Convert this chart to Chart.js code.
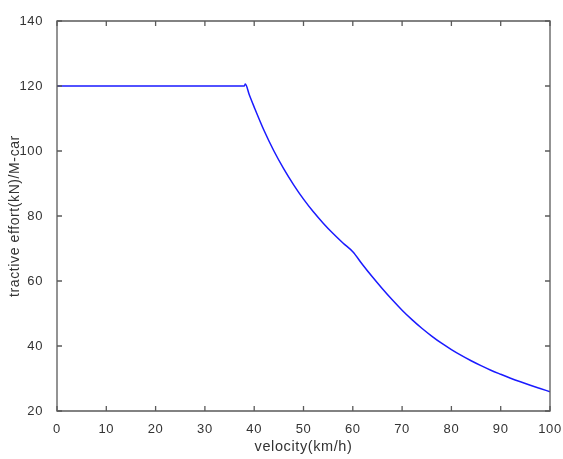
<!DOCTYPE html>
<html><head><meta charset="utf-8">
<script src="https://cdn.jsdelivr.net/npm/chart.js@4.4.1/dist/chart.umd.min.js"></script>
<style>html,body{margin:0;padding:0;background:#fff}#wrap{width:563px;height:459px;position:relative}</style>
</head><body>
<div id="wrap"><canvas id="c"></canvas></div>
<script>
const velocity = [0, 38, 38.2, 39, 40, 42, 44, 46, 48, 50, 52, 54, 56, 58, 60, 62, 64, 66, 68, 70, 72, 74, 76, 78, 80, 82, 84, 86, 88, 90, 92, 94, 96, 98, 100];
const effort = [120, 120, 120.6, 117.3, 113.5, 106.3, 100.0, 94.5, 89.6, 85.2, 81.3, 77.8, 74.6, 71.7, 69.0, 65.0, 61.2, 57.6, 54.2, 51.0, 48.1, 45.45, 43.05, 40.85, 38.9, 37.1, 35.45, 33.95, 32.55, 31.3, 30.1, 28.98, 27.92, 26.92, 25.94];
const xTicks = [0, 10, 20, 30, 40, 50, 60, 70, 80, 90, 100];
const yTicks = [20, 40, 60, 80, 100, 120, 140];
const xTitle = 'velocity(km/h)';
const yTitle = 'tractive effort(kN)/M-car';

const FONT = "'Liberation Sans', Arial, Helvetica, sans-serif";

const boxPlugin = {
  id: 'box',
  beforeDraw(chart) {
    try { chart.ctx.letterSpacing = '0.6px'; } catch (e) {}
  },
  afterDatasetsDraw(chart) {
    const {ctx, chartArea: a, scales: {x, y}} = chart;
    ctx.save();
    ctx.strokeStyle = '#5a5a5a';
    ctx.lineWidth = 1.3;
    ctx.beginPath();
    ctx.rect(a.left, a.top, a.right - a.left, a.bottom - a.top);
    ctx.stroke();
    const L = 5;
    ctx.beginPath();
    xTicks.forEach(v => {
      const px = x.getPixelForValue(v);
      ctx.moveTo(px, a.bottom); ctx.lineTo(px, a.bottom - L);
      ctx.moveTo(px, a.top); ctx.lineTo(px, a.top + L);
    });
    yTicks.forEach(v => {
      const py = y.getPixelForValue(v);
      ctx.moveTo(a.left, py); ctx.lineTo(a.left + L, py);
      ctx.moveTo(a.right, py); ctx.lineTo(a.right - L, py);
    });
    ctx.stroke();
    ctx.restore();
  }
};

new Chart(document.getElementById('c'), {
  type: 'line',
  data: {
    datasets: [{
      data: velocity.map((v, i) => ({x: v, y: effort[i]})),
      borderColor: '#1a1aff',
      borderWidth: 1.5,
      pointRadius: 0,
      cubicInterpolationMode: 'monotone',
      fill: false
    }]
  },
  options: {
    responsive: true,
    maintainAspectRatio: false,
    animation: false,
    layout: {padding: {top: 21, right: 13, left: 0, bottom: 0}},
    plugins: {legend: {display: false}, tooltip: {enabled: false}},
    scales: {
      x: {
        type: 'linear', min: 0, max: 100,
        afterBuildTicks: s => { s.ticks = xTicks.map(v => ({value: v})); },
        afterFit: s => { s.height = 48; s.paddingLeft = 0; s.paddingRight = 0; },
        grid: {display: false}, border: {display: false},
        ticks: {padding: 3, color: '#333', font: {family: FONT, size: 13}, maxRotation: 0},
        title: {display: true, text: xTitle, color: '#333', font: {family: FONT, size: 14.5}, padding: {top: 0, bottom: 3}}
      },
      y: {
        type: 'linear', min: 20, max: 140,
        afterBuildTicks: s => { s.ticks = yTicks.map(v => ({value: v})); },
        afterFit: s => { s.width = 57; s.paddingTop = 0; s.paddingBottom = 0; },
        grid: {display: false}, border: {display: false},
        ticks: {padding: 6, color: '#333', font: {family: FONT, size: 13}},
        title: {display: true, text: yTitle, color: '#333', font: {family: FONT, size: 14}, padding: {top: 7, bottom: 0}}
      }
    }
  },
  plugins: [boxPlugin]
});
</script>
</body></html>
